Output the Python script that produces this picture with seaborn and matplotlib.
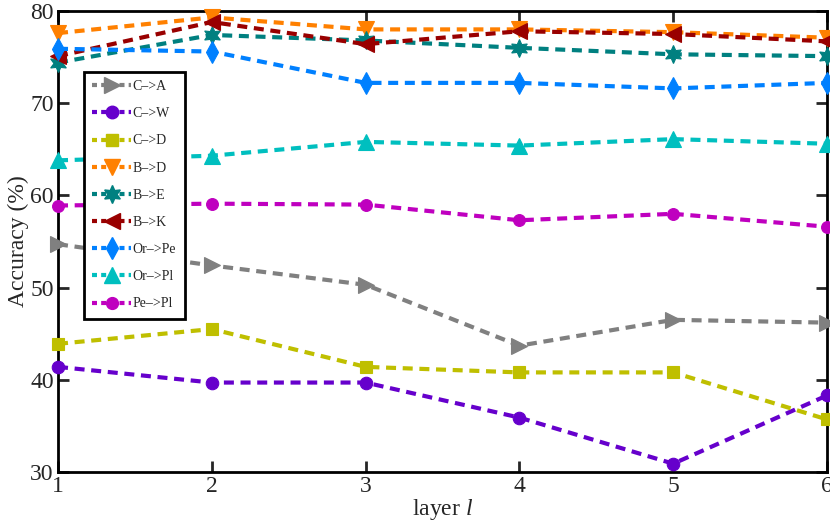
import numpy as np
import pandas as pd
import seaborn as sns
import matplotlib.pyplot as plt
from matplotlib.lines import Line2D

sns.set_theme(style="ticks")
plt.rcParams['font.family'] = ['Liberation Serif', 'DejaVu Serif']
plt.rcParams['mathtext.fontset'] = 'custom'
plt.rcParams['mathtext.it'] = 'Liberation Serif:italic'

layers = [1, 2, 3, 4, 5, 6]
names = ['C–>A', 'C–>W', 'C–>D', 'B–>D', 'B–>E', 'B–>K', 'Or–>Pe', 'Or–>Pl', 'Pe–>Pl']

c_a = [54.7, 52.4, 50.3, 43.7, 46.5, 46.2]
c_w = [41.4, 39.7, 39.7, 35.9, 30.9, 38.3]
c_d = [43.9, 45.5, 41.4, 40.8, 40.8, 35.7]
b_d = [77.6, 79.3, 78.0, 78.0, 77.7, 77.1]
b_e = [74.4, 77.4, 76.8, 76.0, 75.3, 75.1]
b_k = [75.1, 78.8, 76.4, 77.8, 77.5, 76.7]
or_pe = [75.9, 75.6, 72.2, 72.2, 71.6, 72.2]
or_pl = [63.8, 64.3, 65.8, 65.4, 66.1, 65.6]
pe_pl = [58.9, 59.1, 59.0, 57.3, 58.0, 56.6]

series = [c_a, c_w, c_d, b_d, b_e, b_k, or_pe, or_pl, pe_pl]
colors = ['#808080', '#6600cc', '#bfbf00', '#ff8000', '#008080',
          '#990000', '#0080ff', '#00bfbf', '#bf00bf']
markers = ['>', 'o', 's', 'v', (6, 1, 0), '<', 'd', '^', 'o']
msizes = [12, 9, 8.5, 12, 13, 12, 11, 12, 8.5]

df = pd.DataFrame({'layer': layers * len(names),
                   'acc': np.concatenate(series),
                   'task': np.repeat(names, len(layers))})

fig = plt.figure(figsize=(8.3, 5.22), dpi=100)
ax = fig.add_axes([0.0699, 0.0958, 0.9265, 0.8832])

handles = []
for name, col, mk, ms in zip(names, colors, markers, msizes):
    sub = df[df['task'] == name]
    sns.lineplot(data=sub, x='layer', y='acc', ax=ax, color=col, marker=mk,
                 markersize=ms, markeredgecolor=col, markeredgewidth=0.8,
                 linewidth=3, dashes=False, linestyle=(0, (2.4, 1.6)),
                 clip_on=False, zorder=3)
    handles.append(Line2D([], [], color=col, marker=mk, markersize=ms,
                          markeredgecolor=col, linewidth=3,
                          linestyle=(0, (1.2, 1.0))))

ax.set_xlim(1, 6)
ax.set_ylim(30, 80)
ax.set_xticks(layers)
ax.set_yticks([30, 40, 50, 60, 70, 80])
ax.tick_params(direction='in', length=8, width=2, labelsize=17,
               top=True, right=True, pad=3)
for s in ax.spines.values():
    s.set_linewidth(2)
    s.set_color('black')
ax.set_xlabel('layer $\\mathit{l}$', fontsize=17, labelpad=0)
ax.set_ylabel('Accuracy (%)', fontsize=17, labelpad=1)

leg = ax.legend(handles, names, loc='upper left', bbox_to_anchor=(0.034, 0.868),
                borderaxespad=0, fontsize=10, labelspacing=1.02,
                handlelength=2.8, handletextpad=0.1, borderpad=0.6,
                fancybox=False, framealpha=1, edgecolor='black')
leg.get_frame().set_linewidth(2)

fig.savefig('out.png', dpi=100)
